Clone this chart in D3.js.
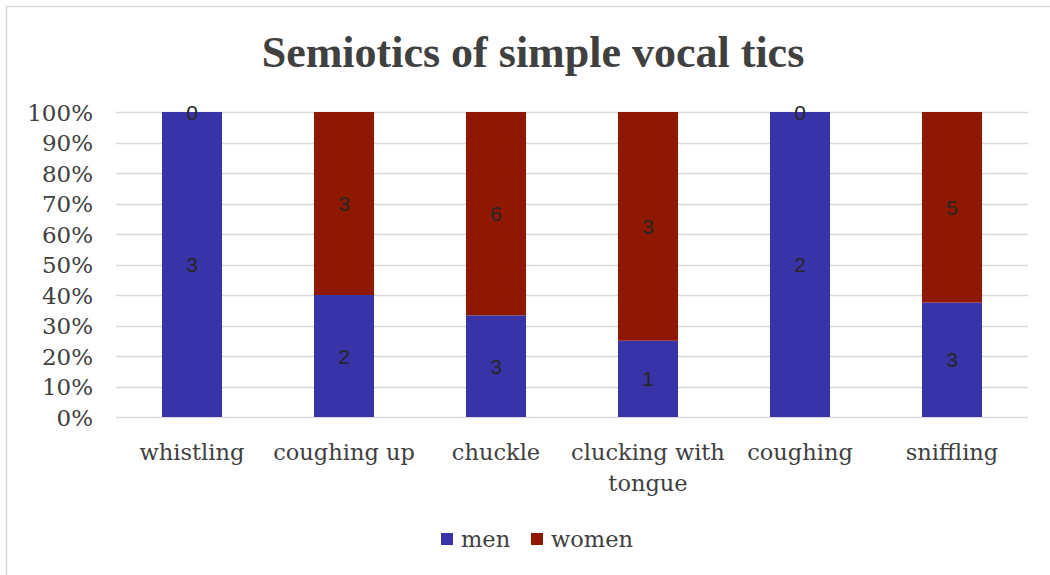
<!DOCTYPE html>
<html><head><meta charset="utf-8">
<script src="https://cdn.jsdelivr.net/npm/d3@7"></script>
<style>body{margin:0;background:#fff}svg{display:block}</style>
</head><body>
<div id="chart"></div>
<script>
const categories = ["whistling","coughing up","chuckle","clucking with tongue","coughing","sniffling"];
const categoryLines = [["whistling"],["coughing up"],["chuckle"],["clucking with","tongue"],["coughing"],["sniffling"]];
const men = [3,2,3,1,2,3];
const women = [0,3,6,3,0,5];
const seriesNames = ["men","women"];
const tickValues = [0,0.1,0.2,0.3,0.4,0.5,0.6,0.7,0.8,0.9,1];

const W = 1050, H = 575;
const colors = {men:"#3833A6", women:"#8F1800"};
const svg = d3.select("#chart").append("svg").attr("width",W).attr("height",H);
svg.append("rect").attr("width",W).attr("height",H).attr("fill","#fff");
svg.append("path").attr("d","M6.5,575 L6.5,6.5 L1050,6.5").attr("fill","none").attr("stroke","#d9d9d9").attr("stroke-width",1.5);

const x = d3.scaleBand().domain(categories).range([116,1028]).paddingInner(0.605).paddingOuter(0.3025);
const y = d3.scaleLinear().domain([0,1]).range([417,112]);

const serif = "'DejaVu Serif', 'Liberation Serif', serif";

svg.append("g").selectAll("line").data(tickValues).join("line")
  .attr("x1",116).attr("x2",1028)
  .attr("y1",d=>Math.round(y(d))+0.5).attr("y2",d=>Math.round(y(d))+0.5)
  .attr("stroke","#d9d9d9").attr("stroke-width",1.5);

const yAxis = d3.axisLeft(y).tickValues(tickValues).tickFormat(d3.format(".0%")).tickSize(0).tickPadding(0);
const ya = svg.append("g").attr("transform","translate(93,0)").call(yAxis);
ya.select(".domain").remove();
ya.selectAll("text").attr("font-family",serif).attr("font-size",23).attr("fill","#404040").attr("dy","0.36em");

const data = categories.map((c,i)=>({cat:c, men:men[i], women:women[i]}));
const stack = d3.stack().keys(seriesNames).offset(d3.stackOffsetExpand);
const series = stack(data);

const g = svg.append("g");
series.forEach(s=>{
  g.append("g").selectAll("rect").data(s).join("rect")
    .attr("x",d=>x(d.data.cat))
    .attr("width",x.bandwidth())
    .attr("y",d=>y(d[1]))
    .attr("height",d=>y(d[0])-y(d[1]))
    .attr("fill",colors[s.key]);
});
series.forEach(s=>{
  g.append("g").selectAll("text").data(s).join("text")
    .attr("x",d=>x(d.data.cat)+x.bandwidth()/2)
    .attr("y",d=>y((d[0]+d[1])/2))
    .attr("dy","0.36em")
    .attr("text-anchor","middle")
    .attr("font-family","'Liberation Sans', Arial, sans-serif")
    .attr("font-size",21)
    .attr("fill","#262626")
    .text(d=>d.data[s.key]);
});

const xg = svg.append("g");
categories.forEach((c,i)=>{
  const t = xg.append("text")
    .attr("x",x(c)+x.bandwidth()/2)
    .attr("y",460)
    .attr("text-anchor","middle")
    .attr("font-family",serif).attr("font-size",22.5).attr("fill","#404040");
  categoryLines[i].forEach((ln,j)=>{
    t.append("tspan").attr("x",x(c)+x.bandwidth()/2).attr("dy",j===0?0:31).text(ln);
  });
});

svg.append("text").attr("x",533).attr("y",67).attr("text-anchor","middle")
  .attr("font-family","'Liberation Serif', serif").attr("font-weight","bold")
  .attr("font-size",44).attr("fill","#404040")
  .text("Semiotics of simple vocal tics");

const legendX = [441,531];
seriesNames.forEach((s,i)=>{
  svg.append("rect").attr("x",legendX[i]).attr("y",533).attr("width",12).attr("height",12).attr("fill",colors[s]);
  svg.append("text").attr("x",legendX[i]+20).attr("y",547)
    .attr("font-family",serif).attr("font-size",22.5).attr("fill","#404040").text(s);
});
</script>
</body></html>
